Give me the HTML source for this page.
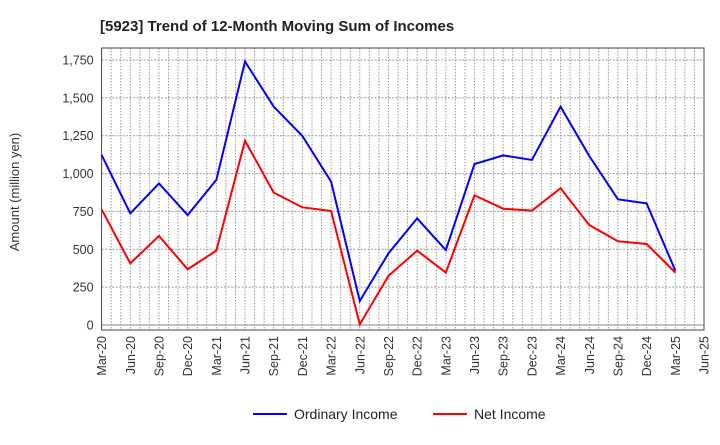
<!DOCTYPE html>
<html><head><meta charset="utf-8"><style>
body{margin:0;background:#fff;font-family:"Liberation Sans",sans-serif;}
svg text{font-family:"Liberation Sans",sans-serif;}
</style></head><body>
<svg id="chart" width="720" height="440">
<text x="100" y="31" font-size="15" font-weight="bold" fill="#222">[5923]  Trend of 12-Month Moving Sum of Incomes</text>
<text transform="translate(19,192) rotate(-90)" text-anchor="middle" font-size="13" fill="#333">Amount (million yen)</text>
<g id="grid"></g><g id="axes"></g><g id="series"></g>
<g>
<line x1="253" y1="414" x2="287" y2="414" stroke="#0000ff" stroke-width="2"/>
<text x="294" y="419" font-size="14" fill="#222">Ordinary Income</text>
<line x1="433" y1="414" x2="467" y2="414" stroke="#ff0000" stroke-width="2"/>
<text x="474" y="419" font-size="14" fill="#222">Net Income</text>
</g>
</svg>
<script>
const categories=["Mar-20","Jun-20","Sep-20","Dec-20","Mar-21","Jun-21","Sep-21","Dec-21","Mar-22","Jun-22","Sep-22","Dec-22","Mar-23","Jun-23","Sep-23","Dec-23","Mar-24","Jun-24","Sep-24","Dec-24","Mar-25","Jun-25"];
const ordinaryIncome=[1123,737,935,726,958,1740,1442,1248,947,158,473,704,495,1063,1120,1090,1442,1116,830,803,359];
const netIncome=[764,407,588,368,491,1217,874,777,753,4,324,491,346,856,768,755,903,660,553,535,346];
const yTicks=[0,250,500,750,1000,1250,1500,1750];
const yTickLabels=["0","250","500","750","1,000","1,250","1,500","1,750"];
const NS="http://www.w3.org/2000/svg";
const L=101.6,R=704,T=48,B=330,Y0=325,Y1=60;
const step=(R-L)/(categories.length-1);
const x=i=>L+i*step;
const y=v=>Y0-(v/1750)*(Y0-Y1);
function mk(tag,attrs,parent){const e=document.createElementNS(NS,tag);for(const k in attrs)e.setAttribute(k,attrs[k]);parent.appendChild(e);return e;}
const grid=document.getElementById('grid'),axes=document.getElementById('axes'),ser=document.getElementById('series');
for(let m=1;m<(categories.length-1)*3;m++){const xx=L+m*step/3;
const g=mk('line',{x1:xx,x2:xx,y1:T,y2:B,stroke:'#999','stroke-dasharray':'1.5,1.5','stroke-width':1},grid);

}
yTicks.forEach((v,i)=>{const yy=y(v);
const g=mk('line',{x1:L,x2:R,y1:yy,y2:yy,stroke:v===0?'#888':'#999','stroke-dasharray':v===0?'':'2,1.5','stroke-width':1},grid);


const t=mk('text',{x:L-8,y:yy+4.5,'text-anchor':'end','font-size':12.5,fill:'#333'},axes);t.textContent=yTickLabels[i];

});
const fr=mk('rect',{x:L,y:T,width:R-L,height:B-T,fill:'none',stroke:'#444','stroke-width':1},axes);


categories.forEach((c,i)=>{const xx=x(i);
const t=mk('text',{transform:`translate(${xx+4.5},${B+6}) rotate(-90)`,'text-anchor':'end','font-size':12.5,fill:'#333'},axes);t.textContent=c;

});
function line(data,color,name){const p=mk('polyline',{points:data.map((v,i)=>x(i)+','+y(v)).join(' '),fill:'none',stroke:color,'stroke-width':2,'stroke-linejoin':'miter'},ser);

}
line(ordinaryIncome,'#0000ff','ordinary-income-line');
line(netIncome,'#ff0000','net-income-line');
</script>
</body></html>
